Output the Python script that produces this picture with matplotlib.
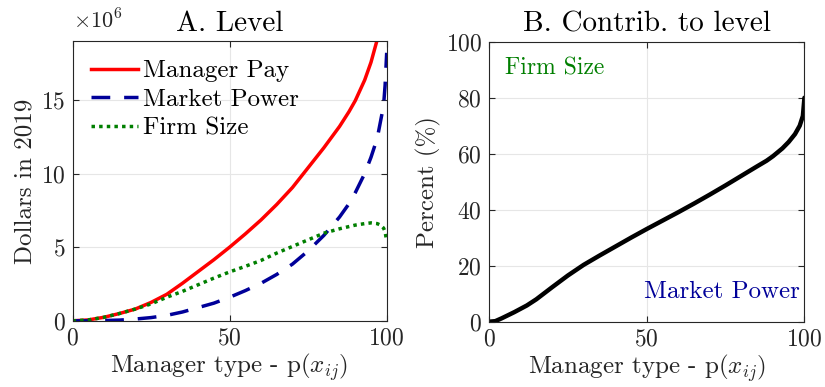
import numpy as np
import matplotlib
matplotlib.use('Agg')
import matplotlib.pyplot as plt
from matplotlib import rcParams

# Manager type percentile and the pay decomposition, in millions of 2019 dollars
pct = [0, 5, 10, 15, 20, 25, 30, 35, 40, 45, 50, 55, 60, 65, 70, 75, 80, 85,
       88, 90, 93, 95, 97, 98, 99, 99.5, 100]
pay = [0, 0.06, 0.24, 0.5, 0.8, 1.25, 1.8, 2.55, 3.35, 4.15, 5.0, 5.9, 6.85,
       7.9, 9.05, 10.4, 11.75, 13.2, 14.2, 14.95, 16.35, 17.55, 19.1, 20.0,
       20.9, 21.4, 22.0]
mkt_power = [0, 0.0, 0.02, 0.05, 0.12, 0.22, 0.37, 0.6, 0.9, 1.2, 1.6, 2.05,
             2.55, 3.15, 3.85, 4.75, 5.8, 7.05, 7.95, 8.7, 10.0, 11.1, 12.4,
             13.5, 14.6, 16.0, 18.2]
firm_size = [0, 0.06, 0.24, 0.5, 0.8, 1.15, 1.6, 2.0, 2.45, 2.9, 3.32, 3.7,
             4.1, 4.6, 5.05, 5.5, 5.95, 6.25, 6.4, 6.5, 6.6, 6.65, 6.6, 6.5,
             6.3, 6.05, 5.4]

# Share of the level attributed to market power (percent)
pct_b = [0, 2, 4, 6, 8, 10, 12, 15, 20, 25, 30, 35, 40, 45, 50, 55, 60, 65,
         70, 75, 80, 85, 88, 90, 93, 95, 97, 98.5, 99.5, 100]
share = [0, 0.2, 1.2, 2.3, 3.4, 4.6, 5.8, 8.0, 12.3, 16.5, 20.3, 23.6, 26.8,
         30.0, 33.1, 36.1, 39.1, 42.2, 45.4, 48.7, 52.1, 55.5, 57.5, 59.1,
         61.9, 64.2, 67.0, 70.0, 73.5, 80.0]

rcParams['font.family'] = ['cmr10']
rcParams['mathtext.fontset'] = 'cm'
rcParams['axes.formatter.use_mathtext'] = True
rcParams['font.size'] = 17
rcParams['lines.solid_joinstyle'] = 'round'
rcParams['lines.dash_joinstyle'] = 'round'

axcol = '#262626'
red = '#ff0000'
navy = '#000099'
green = '#007f00'


def style(ax, yticks):
    ax.set_xlim(0, 100)
    ax.set_xticks([0, 50, 100])
    ax.set_yticks(yticks)
    ax.grid(True, color='#e6e6e6', lw=0.8)
    ax.set_axisbelow(True)
    ax.tick_params(direction='in', top=True, right=True, length=4,
                   colors=axcol, labelcolor=axcol, pad=5, labelsize=17)
    for s in ax.spines.values():
        s.set_color(axcol)
        s.set_linewidth(0.8)
    ax.set_xlabel(r'Manager type - p($x_{ij}$)', color=axcol, labelpad=1,
                  fontsize=18)


fig = plt.figure(figsize=(8.25, 3.87), dpi=100)

# A. Level
ax1 = fig.add_axes([0.0879, 0.171, 0.3808, 0.723])
ax1.plot(pct, pay, color=red, lw=2.5, label='Manager Pay')
ax1.plot(pct, mkt_power, color=navy, lw=2.5, dashes=(5.4, 4.0),
         label='Market Power')
ax1.plot(pct, firm_size, color=green, lw=2.5, dashes=(1, 1.2),
         label='Firm Size')
ax1.set_ylim(0, 19)
style(ax1, [0, 5, 10, 15])
ax1.set_ylabel('Dollars in 2019', color=axcol, labelpad=3, fontsize=18)
ax1.set_title('A. Level', color='black', pad=7, fontsize=21)
ax1.text(0, 1.03, r'$\times10^6$', transform=ax1.transAxes, fontsize=16,
         color=axcol, va='bottom', ha='left')
ax1.legend(loc='upper left', frameon=False, handlelength=1.85,
           handletextpad=0.2, labelspacing=0.25, borderaxespad=0.35,
           fontsize=18)

# B. Contribution to level
ax2 = fig.add_axes([0.5927, 0.1687, 0.3824, 0.7235])
ax2.plot(pct_b, share, color='black', lw=3.2, solid_capstyle='round')
ax2.set_ylim(0, 100)
style(ax2, [0, 20, 40, 60, 80, 100])
ax2.set_ylabel('Percent (%)', color=axcol, labelpad=3, fontsize=18)
ax2.set_title('B. Contrib. to level', color='black', pad=7, fontsize=21)
ax2.text(5, 90.5, 'Firm Size', color=green, va='center', ha='left',
         fontsize=17)
ax2.text(98.5, 10.5, 'Market Power', color=navy, va='center', ha='right',
         fontsize=18)

fig.savefig('out.png', dpi=100)
